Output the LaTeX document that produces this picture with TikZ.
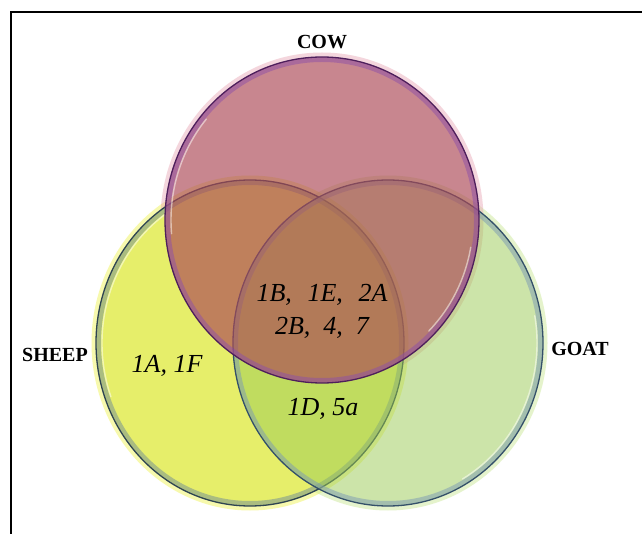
\documentclass[tikz,border=0pt]{standalone}
\usepackage{fontspec}
\setmainfont{Liberation Serif}
\definecolor{sheepfill}{HTML}{E6EE6A}
\definecolor{sheepline}{HTML}{2E4452}
\definecolor{sheepband}{HTML}{6F8C96}
\definecolor{sheepglow}{HTML}{EEF24A}
\definecolor{goatfill}{HTML}{9BCB55}
\definecolor{goatline}{HTML}{34506A}
\definecolor{goatband}{HTML}{7C9AB4}
\definecolor{goatglow}{HTML}{C6E68E}
\definecolor{cowfill}{HTML}{AC4855}
\definecolor{cowline}{HTML}{4E1F5C}
\definecolor{cowband}{HTML}{8E4FA8}
\definecolor{cowglow}{HTML}{E8A6B4}

\begin{document}
\begin{tikzpicture}[
  x=1pt, y=-1pt,
  tag/.style={font=\fontsize{20}{22}\selectfont\bfseries, inner sep=0pt},
  entry/.style={font=\fontsize{26}{33}\selectfont\itshape, align=center, inner sep=0pt},
  glow/.style={line width=5pt, opacity=0.45},
  band/.style={line width=5pt, opacity=0.5},
  shine/.style={draw=white, line width=1.4pt, opacity=0.5, line cap=round},
  rim/.style={line width=1.3pt}
]
\useasboundingbox (0,0) rectangle (642,534);
\fill[white] (0,0) rectangle (642,534);

\coordinate (cow) at (322,220);
\coordinate (sheep) at (250,343);
\coordinate (goat) at (388,343);

% soft glow round each set
\draw[glow, sheepglow] (sheep) ellipse [x radius=156pt, y radius=165pt];
\draw[glow, goatglow] (goat) ellipse [x radius=157pt, y radius=165pt];
\draw[glow, cowglow] (cow) ellipse [x radius=159pt, y radius=165pt];

% sheep
\fill[sheepfill] (sheep) ellipse [x radius=154pt, y radius=163pt];
\draw[band, sheepband] (sheep) ellipse [x radius=151.5pt, y radius=160.5pt];
\draw[shine] (sheep) ++(125:148pt and 157pt) arc [start angle=125, end angle=200, x radius=148pt, y radius=157pt];
\draw[rim, sheepline] (sheep) ellipse [x radius=154pt, y radius=163pt];

% goat
\fill[goatfill, opacity=0.5] (goat) ellipse [x radius=155pt, y radius=163pt];
\draw[band, goatband] (goat) ellipse [x radius=152.5pt, y radius=160.5pt];
\draw[shine] (goat) ++(-60:149pt and 157pt) arc [start angle=-60, end angle=10, x radius=149pt, y radius=157pt];
\draw[rim, goatline] (goat) ellipse [x radius=155pt, y radius=163pt];

% cow
\fill[cowfill, opacity=0.66] (cow) ellipse [x radius=157pt, y radius=163pt];
\draw[band, cowband] (cow) ellipse [x radius=154.5pt, y radius=160.5pt];
\draw[shine] (cow) ++(140:151pt and 157pt) arc [start angle=140, end angle=185, x radius=151pt, y radius=157pt];
\draw[shine] (cow) ++(-45:151pt and 157pt) arc [start angle=-45, end angle=-10, x radius=151pt, y radius=157pt];
\draw[rim, cowline] (cow) ellipse [x radius=157pt, y radius=163pt];

% set names
\node[tag] (cowname) at (322,42) {COW};
\node[tag] (sheepname) at (55,355) {SHEEP};
\node[tag] (goatname) at (580,349) {GOAT};

% members
\node[entry] (sheeponly) at (167,366) {1A, 1F};
\node[entry] (allsets) at (322,311) {1B,\hspace{0.6em}1E,\hspace{0.6em}2A\\2B,\hspace{0.5em}4,\hspace{0.5em}7};
\node[entry] (sheepgoat) at (323,409) {1D, 5a};

% frame
\draw[line width=2.8pt] (11,534) -- (11,12) -- (642,12);
\end{tikzpicture}
\end{document}
